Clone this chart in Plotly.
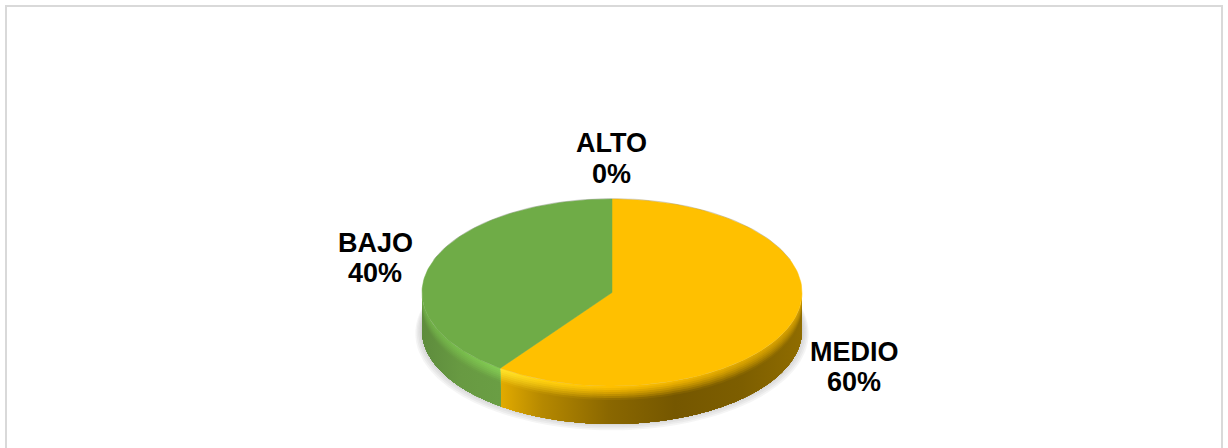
import numpy as np
import plotly.graph_objects as go

categories = ["ALTO", "MEDIO", "BAJO"]
values = [0, 60, 40]
top_colors = ["#4472C4", "#FFC000", "#6FAC47"]

W, H = 1228, 448
CX, CY, RX, RY, DEPTH = 612, 292.5, 190, 93.5, 38
LABEL_POS = {"ALTO": (611, 143, 174), "MEDIO": (854, 352, 382), "BAJO": (375, 243, 273)}
FONT = dict(family="Liberation Sans, Arial, sans-serif", size=27, color="#000000")


def arc(a0, a1, d=0.0, scale=1.0, n=120):
    t = np.radians(np.linspace(a0, a1, n))
    return CX + RX * scale * np.sin(t), CY - RY * scale * np.cos(t) + d


def hexrgb(c):
    return np.array([int(c[i:i + 2], 16) for i in (1, 3, 5)], float)


def mix(a, b, w):
    r = hexrgb(a) * (1 - w) + hexrgb(b) * w
    return "rgb(%d,%d,%d)" % tuple(r)


fig = go.Figure()

# soft shadow beneath the disc
for grow, off in [(1.035, 41), (1.028, 40), (1.02, 39), (1.012, 38), (1.005, 37)]:
    x, y = arc(0, 360, off, grow, 180)
    fig.add_trace(go.Scatter(x=x, y=y, fill="toself", mode="none",
                             fillcolor="rgba(120,120,120,0.07)", hoverinfo="skip"))

# angular extent of each slice, clockwise from the top
edges = np.concatenate([[0], np.cumsum(values)]) * 3.6

# side profile per slice: horizontal stops of the wall colour and the lit rim
wall = {
    "MEDIO": ["#E2AB00", "#B58800", "#8A6700", "#755700", "#7D5E00", "#8F6C00"],
    "BAJO": ["#5E8C3D", "#689A42", "#6A9E44"],
}
rim = {
    "MEDIO": ["#FFE22A", "#FFD010", "#FFC000", "#F0B400", "#DDA600", "#D09C00"],
    "BAJO": ["#6FAC47", "#78BC4C", "#84CC54"],
}

bands = np.linspace(0, DEPTH, 20)[:-1]
for cat, a0, a1 in zip(categories, edges[:-1], edges[1:]):
    lo, hi = max(a0, 90), min(a1, 270)
    if hi <= lo:
        continue
    for d0 in bands:
        # each layer reaches the bottom, so later layers cover it without seams
        xa, ya = arc(lo, hi, d0)
        xb, yb = arc(hi, lo, DEPTH)
        w = min(1.0, (d0 / 13.0) ** 1.3)
        cols = [mix(r, s, w) for r, s in zip(rim[cat], wall[cat])]
        cs = [[i / (len(cols) - 1), c] for i, c in enumerate(cols)]
        if cat == "MEDIO":
            cs = [[p, c] for p, c in zip([0, 0.14, 0.36, 0.58, 0.8, 1], cols)]
        fig.add_trace(go.Scatter(
            x=np.concatenate([xa, xb]), y=np.concatenate([ya, yb]),
            fill="toself", mode="none", hoverinfo="skip",
            fillgradient=dict(type="horizontal", colorscale=cs)))

# top face of each slice
for cat, col, a0, a1 in zip(categories, top_colors, edges[:-1], edges[1:]):
    if a1 <= a0:
        continue
    x, y = arc(a0, a1)
    fig.add_trace(go.Scatter(x=np.r_[CX, x, CX], y=np.r_[CY, y, CY],
                             fill="toself", mode="lines", line=dict(color=col, width=0.5),
                             fillcolor=col, hoverinfo="skip"))

# thin grey hairline around the far edge of the disc
x, y = arc(-70, 70)
fig.add_trace(go.Scatter(x=x, y=y - 0.4, mode="lines", hoverinfo="skip",
                         line=dict(color="rgba(110,110,110,0.35)", width=0.8)))

annotations = []
total = sum(values)
for cat, v in zip(categories, values):
    px, y1, y2 = LABEL_POS[cat]
    for txt, py in ((cat, y1), (f"{round(100 * v / total)}%", y2)):
        annotations.append(dict(x=px, y=py, xref="x", yref="y", text=f"<b>{txt}</b>",
                                showarrow=False, font=FONT, xanchor="center", yanchor="middle"))

fig.update_layout(
    width=W, height=H, margin=dict(l=0, r=0, t=0, b=0), autosize=False,
    paper_bgcolor="#FFFFFF", plot_bgcolor="#FFFFFF", showlegend=False,
    xaxis=dict(range=[0, W], visible=False, fixedrange=True),
    yaxis=dict(range=[H, 0], visible=False, fixedrange=True),
    annotations=annotations,
    shapes=[dict(type="rect", xref="x", yref="y", x0=6, y0=6, x1=1222, y1=H + 20,
                 line=dict(color="#D9D9D9", width=2), fillcolor="rgba(0,0,0,0)", layer="below")],
)
fig.write_html("out.html", config={"displayModeBar": False},
               post_script="document.body.style.margin='0';document.body.style.overflow='hidden';")
